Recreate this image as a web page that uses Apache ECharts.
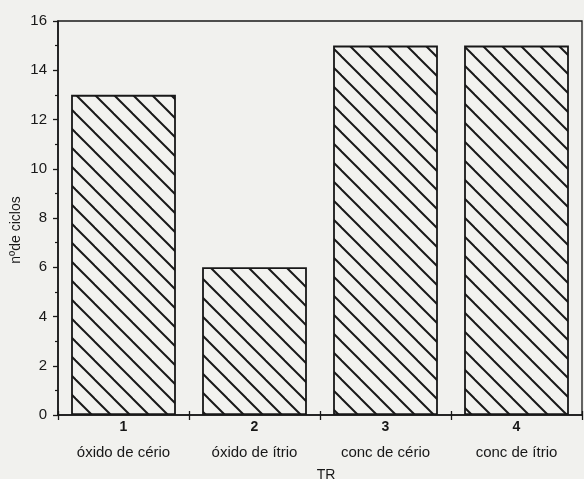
<!DOCTYPE html>
<html>
<head>
<meta charset="utf-8">
<script src="https://cdn.jsdelivr.net/npm/echarts@6/dist/echarts.min.js"></script>
<style>
  html, body { margin: 0; padding: 0; background: #f1f1ee; }
  #chart { width: 584px; height: 479px; }
</style>
</head>
<body>
<div id="chart"></div>
<script>
// Treatment numbers and names (TR)
const trNumbers = ['1', '2', '3', '4'];
const trNames = ['óxido de cério', 'óxido de ítrio', 'conc de cério', 'conc de ítrio'];
// Number of cycles per treatment
const cycles = [13, 6, 15, 15];
// Y axis range
const yMin = 0;
const yMax = 16;
const yStep = 2;

// Diagonal hatch tile (lines running top-left to bottom-right)
function hatchTile() {
  const s = 19;
  const c = document.createElement('canvas');
  c.width = s; c.height = s;
  const g = c.getContext('2d');
  g.fillStyle = '#f2f2ef';
  g.fillRect(0, 0, s, s);
  g.strokeStyle = '#181818';
  g.lineWidth = 2;
  [-s, 0, s].forEach(function (x0) {
    g.beginPath();
    g.moveTo(x0 - 1, -1);
    g.lineTo(x0 + s + 1, s + 1);
    g.stroke();
  });
  return c;
}

const chart = echarts.init(document.getElementById('chart'), null, { renderer: 'canvas' });
const font = 'Liberation Sans, Arial, sans-serif';
const ink = '#181818';

chart.setOption({
  backgroundColor: '#f1f1ee',
  animation: false,
  grid: {
    left: 58, right: 2, top: 21, bottom: 64,
    containLabel: false,
    outerBoundsMode: 'none',
    show: true, borderColor: ink, borderWidth: 1.3, backgroundColor: 'transparent'
  },
  xAxis: [{
    type: 'category',
    data: trNumbers,
    name: 'TR',
    nameLocation: 'middle',
    nameGap: 53,
    nameMoveOverlap: false,
    nameTextStyle: { fontFamily: font, fontSize: 14, color: ink, padding: [0, 0, 0, 12] },
    axisLine: { lineStyle: { color: ink, width: 1.6 } },
    axisTick: { show: true, length: 5, lineStyle: { color: ink, width: 1.3 } },
    axisLabel: {
      margin: 4,
      formatter: function (v, i) {
        return '{n|' + v + '}\n{c|' + trNames[i] + '}';
      },
      rich: {
        n: { fontFamily: font, fontSize: 14, fontWeight: 'bold', color: ink, lineHeight: 16 },
        c: { fontFamily: font, fontSize: 15, color: ink, lineHeight: 35 }
      }
    }
  }, {
    // same axis again, only to draw the tick halves inside the plot
    type: 'category',
    position: 'bottom',
    data: trNumbers,
    axisLine: { show: false },
    axisTick: { show: true, inside: true, length: 4, lineStyle: { color: ink, width: 1.3 } },
    axisLabel: { show: false }
  }],
  yAxis: {
    type: 'value',
    min: yMin, max: yMax, interval: yStep,
    name: 'nºde ciclos',
    nameLocation: 'middle',
    nameGap: 35,
    nameMoveOverlap: false,
    nameTextStyle: { fontFamily: font, fontSize: 14, color: ink, padding: [0, 24, 0, 0] },
    axisLine: { show: true, lineStyle: { color: ink, width: 1.6 } },
    axisTick: { show: true, length: 5, lineStyle: { color: ink, width: 1.3 } },
    minorTick: { show: true, splitNumber: 2, length: 3, lineStyle: { color: ink, width: 1.2 } },
    splitLine: { show: false },
    axisLabel: { margin: 11, fontFamily: font, fontSize: 15, color: ink }
  },
  series: [{
    type: 'bar',
    xAxisIndex: 0,
    data: cycles,
    barWidth: '80%',
    itemStyle: {
      color: { image: hatchTile(), repeat: 'repeat' },
      borderColor: ink,
      borderWidth: 1.8
    }
  }]
});
</script>
</body>
</html>
